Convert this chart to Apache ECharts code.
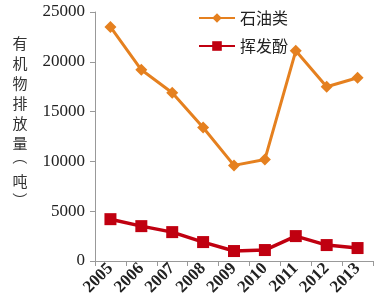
<!DOCTYPE html>
<html><head><meta charset="utf-8">
<script src="https://cdn.jsdelivr.net/npm/echarts@6/dist/echarts.min.js"></script>
<style>html,body{margin:0;padding:0;background:#fff}#c{width:386px;height:308px}</style>
</head><body><div id="c"></div>
<script>
var years = ['2005','2006','2007','2008','2009','2010','2011','2012','2013'];
var petroleum = [23500, 19200, 16900, 13400, 9600, 10200, 21100, 17500, 18400];
var phenol = [4200, 3500, 2900, 1900, 1000, 1100, 2500, 1600, 1300];
var yTicks = [0, 5000, 10000, 15000, 20000, 25000];
var seriesNames = ['石油类', '挥发酚'];
var yTitle = ['有','机','物','排','放','量'];
var yUnit = ['（','吨','）'];

var chart = echarts.init(document.getElementById('c'));
var titleFont = {fontFamily: 'Noto Sans CJK SC', fontSize: 15, fill: '#333'};
chart.setOption({
  animation: false,
  backgroundColor: '#fff',
  grid: {left: 95, right: 13, top: 12, bottom: 47},
  legend: {
    orient: 'vertical', left: 193, top: 5, itemGap: 12,
    itemWidth: 36, itemHeight: 12,
    textStyle: {fontFamily: 'Noto Sans CJK SC', fontSize: 16, color: '#222'},
    data: seriesNames
  },
  graphic: [{
    type: 'text', x: 20, y: 33,
    style: Object.assign({text: yTitle.join('\n'), lineHeight: 20, align: 'center'}, titleFont)
  }, {
    type: 'text', x: 20, y: 157, rotation: -Math.PI/2,
    style: Object.assign({text: yUnit[0], align: 'center', verticalAlign: 'middle'}, titleFont)
  }, {
    type: 'text', x: 20, y: 181,
    style: Object.assign({text: yUnit[1], align: 'center', verticalAlign: 'middle'}, titleFont)
  }, {
    type: 'text', x: 20, y: 200, rotation: -Math.PI/2,
    style: Object.assign({text: yUnit[2], align: 'center', verticalAlign: 'middle'}, titleFont)
  }],
  xAxis: {
    type: 'category', data: years, boundaryGap: true,
    axisLine: {lineStyle: {color: '#999', width: 1}},
    axisTick: {show: true, length: 5, lineStyle: {color: '#999'}},
    axisLabel: {rotate: 45, margin: 5, fontFamily: 'Liberation Serif', fontWeight: 'bold', fontSize: 17, color: '#222', interval: 0}
  },
  yAxis: {
    type: 'value', min: yTicks[0], max: yTicks[yTicks.length-1], interval: 5000,
    splitLine: {show: false},
    axisLine: {show: true, lineStyle: {color: '#999', width: 1}},
    axisTick: {show: true, length: 5, lineStyle: {color: '#999'}},
    axisLabel: {margin: 10, fontFamily: 'Liberation Serif', fontSize: 17, color: '#222',
      formatter: function (v) { return String(v); }}
  },
  series: [{
    name: seriesNames[0], type: 'line', data: petroleum,
    symbol: 'diamond', symbolSize: 12,
    lineStyle: {color: '#E5801F', width: 3},
    itemStyle: {color: '#E5801F'}
  }, {
    name: seriesNames[1], type: 'line', data: phenol,
    symbol: 'rect', symbolSize: 12,
    lineStyle: {color: '#C00010', width: 3.5},
    itemStyle: {color: '#C00010'}
  }]
});
</script></body></html>
